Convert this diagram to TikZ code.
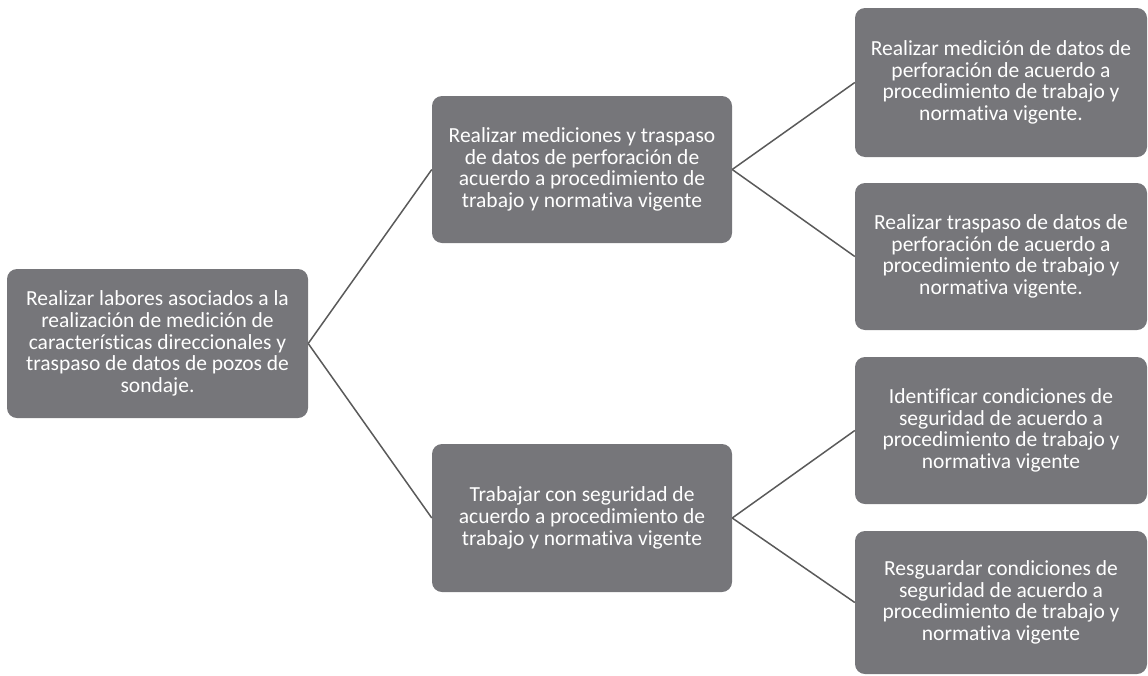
\documentclass[tikz,border=0pt]{standalone}
\usepackage{fontspec}
\setmainfont{Carlito}[Ligatures=NoCommon]
\definecolor{boxgray}{RGB}{118,118,122}
\definecolor{linegray}{RGB}{90,90,90}
\begin{document}
\begin{tikzpicture}[x=1pt,y=-1pt,
  box/.style={draw=none, fill=boxgray, rounded corners=10pt, text=white,
    align=center, font=\fontsize{21.5}{21.7}\selectfont, inner sep=0pt},
  conn/.style={draw=linegray, line width=1.5pt}]
\useasboundingbox (0,0) rectangle (1148,675);
\node[box, minimum width=301pt, minimum height=149pt] (root) at (157.5,343.5)
  {Realizar labores asociados a la\\realización de medición de\\características direccionales y\\traspaso de datos de pozos de\\sondaje.};
\node[box, minimum width=300pt, minimum height=147pt] (m1) at (582,169.5)
  {Realizar mediciones y traspaso\\de datos de perforación de\\acuerdo a procedimiento de\\trabajo y normativa vigente};
\node[box, minimum width=300pt, minimum height=148pt] (m2) at (582,518)
  {Trabajar con seguridad de\\acuerdo a procedimiento de\\trabajo y normativa vigente};
\node[box, minimum width=292pt, minimum height=149pt] (l1) at (1001,82.5)
  {Realizar medición de datos de\\perforación de acuerdo a\\procedimiento de trabajo y\\normativa vigente.};
\node[box, minimum width=292pt, minimum height=147pt] (l2) at (1001,256.5)
  {Realizar traspaso de datos de\\perforación de acuerdo a\\procedimiento de trabajo y\\normativa vigente.};
\node[box, minimum width=292pt, minimum height=147pt] (l3) at (1001,430.5)
  {Identificar condiciones de\\seguridad de acuerdo a\\procedimiento de trabajo y\\normativa vigente};
\node[box, minimum width=292pt, minimum height=143pt] (l4) at (1001,602.5)
  {Resguardar condiciones de\\seguridad de acuerdo a\\procedimiento de trabajo y\\normativa vigente};
\draw[conn] (root.east) -- (m1.west);
\draw[conn] (root.east) -- (m2.west);
\draw[conn] (m1.east) -- (l1.west);
\draw[conn] (m1.east) -- (l2.west);
\draw[conn] (m2.east) -- (l3.west);
\draw[conn] (m2.east) -- (l4.west);
\end{tikzpicture}
\end{document}
